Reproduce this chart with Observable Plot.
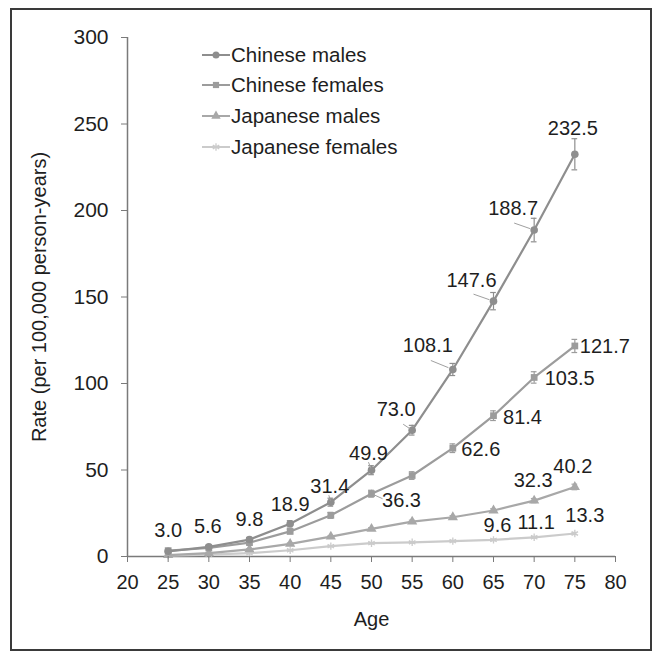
<!DOCTYPE html>
<html>
<head>
<meta charset="utf-8">
<script src="https://cdn.jsdelivr.net/npm/d3@7"></script>
<script src="https://cdn.jsdelivr.net/npm/@observablehq/plot@0.6"></script>
<style>
  body { margin: 0; background: #fff; font-family: "Liberation Sans", Arial, sans-serif; }
  #wrap { position: relative; width: 660px; height: 655px; }
  #border { position: absolute; left: 10px; top: 8px; width: 638px; height: 639px; border: 2px solid #3a3a3a; }
  #legend { position: absolute; left: 195px; top: 40px; }
  .ylab text[transform] { font-size: 21px; }
</style>
</head>
<body>
<div id="wrap"><div id="border"></div></div>
<script>
// ---- data ----
const ages = [25, 30, 35, 40, 45, 50, 55, 60, 65, 70, 75];
const seriesNames = ["Chinese males", "Chinese females", "Japanese males", "Japanese females"];
const chineseMales    = [3.0, 5.6, 9.8, 18.9, 31.4, 49.9, 73.0, 108.1, 147.6, 188.7, 232.5];
const chineseFemales  = [3.4, 4.9, 8.0, 14.5, 23.8, 36.3, 46.8, 62.6, 81.4, 103.5, 121.7];
const japaneseMales   = [0.8, 1.9, 4.1, 7.3, 11.5, 16.0, 20.2, 22.7, 26.6, 32.3, 40.2];
const japaneseFemales = [0.5, 1.1, 1.9, 3.6, 6.0, 7.7, 8.2, 8.9, 9.6, 11.1, 13.3];
// 95% CI half-widths (estimated from error bars)
const chineseMalesErr    = [0.5, 0.8, 1.2, 1.8, 2.3, 2.6, 2.8, 3.5, 5.0, 6.8, 9.0];
const chineseFemalesErr  = [0.5, 0.7, 1.0, 1.3, 1.7, 2.0, 2.2, 2.5, 2.8, 3.3, 3.8];
const japaneseMalesErr   = [0.2, 0.3, 0.4, 0.5, 0.6, 0.7, 0.8, 0.9, 1.0, 1.2, 1.6];
const japaneseFemalesErr = [0.1, 0.2, 0.2, 0.3, 0.3, 0.4, 0.4, 0.4, 0.5, 0.5, 0.6];
const xTicks = [20, 25, 30, 35, 40, 45, 50, 55, 60, 65, 70, 75, 80];
const yTicks = [0, 50, 100, 150, 200, 250, 300];
// labelled points: [series index, age]
const labelled = [
  [0,25],[0,30],[0,35],[0,40],[0,45],[0,50],[0,55],[0,60],[0,65],[0,70],[0,75],
  [1,50],[1,60],[1,65],[1,70],[1,75],
  [2,70],[2,75],
  [3,65],[3,70],[3,75]
];

// ---- layout / style (not data) ----
const colors = ["#8e8e8e", "#9c9c9c", "#a8a8a8", "#cbcbcb"];
const symbols = ["circle", "square", "triangle", "asterisk"];
// label pixel offsets from point: [dx, dy, leaderStartDx, leaderStartDy] (leader null if none)
const labelOffsets = [
  [0,-21,null,null],[-1,-20,null,null],[0,-20,null,null],[0,-19,null,null],
  [-1,-16,-2,-7],[-3,-17,-3,-8],[-16,-21,-9,-6],[-25,-24,-22,-9],[-22,-21,-20,-7],[-21,-21,-20,-7],[-2,-26,null,null],
  [30,7,11,5],[28,1,null,null],[29,1.5,null,null],[35.5,1.5,null,null],[30,1,null,null],
  [-1,-20,null,null],[-2,-20,null,null],
  [4,-14,null,null],[2,-15,null,null],[10,-18,null,null]
];

const W = 660, H = 655, ML = 127, MR = 45, MT = 37, MB = 99;
const kx = (W - ML - MR) / (xTicks[xTicks.length-1] - xTicks[0]);
const ky = (H - MT - MB) / (yTicks[yTicks.length-1] - yTicks[0]);

const valuesArr = [chineseMales, chineseFemales, japaneseMales, japaneseFemales];
const errArr = [chineseMalesErr, chineseFemalesErr, japaneseMalesErr, japaneseFemalesErr];
const rows = [];
valuesArr.forEach((vals, s) => vals.forEach((v, i) => rows.push({
  s, series: seriesNames[s], age: ages[i], value: v, lo: v - errArr[s][i], hi: v + errArr[s][i]
})));

const labels = labelled.map(([s, age], j) => {
  const r = rows.find(d => d.s === s && d.age === age);
  const [dx, dy, lx, ly] = labelOffsets[j];
  return {...r, text: r.value.toFixed(1), dx, dy, lx, ly};
});
const leaders = labels.filter(d => d.lx !== null).map(d => ({
  x1: d.age + d.lx / kx, y1: d.value - d.ly / ky,
  x2: d.age + d.lx * 0.2 / kx, y2: d.value - d.ly * 0.2 / ky
}));

const marks = [
  Plot.ruleY([0], {stroke: "#7a7a7a", strokeWidth: 1.5}),
  Plot.ruleX([20], {stroke: "#7a7a7a", strokeWidth: 1.5}),
];
for (let s = 3; s >= 0; s--) {
  const data = rows.filter(d => d.s === s);
  marks.push(Plot.line(data, {x: "age", y: "value", stroke: colors[s], strokeWidth: 2.2}));
  marks.push(Plot.ruleX(data, {x: "age", y1: "lo", y2: "hi", stroke: colors[s], strokeWidth: 1.2}));
  marks.push(Plot.ruleY(data, {y: "lo", x1: d => d.age - 0.35, x2: d => d.age + 0.35, stroke: colors[s], strokeWidth: 1.2}));
  marks.push(Plot.ruleY(data, {y: "hi", x1: d => d.age - 0.35, x2: d => d.age + 0.35, stroke: colors[s], strokeWidth: 1.2}));
  if (symbols[s] === "asterisk") {
    marks.push(Plot.dot(data, {x: "age", y: "value", symbol: "asterisk", r: 3.5, stroke: colors[s], strokeWidth: 1.3}));
  } else {
    marks.push(Plot.dot(data, {x: "age", y: "value", symbol: symbols[s], r: 3.8, fill: colors[s], stroke: "none"}));
  }
}
marks.push(Plot.link(leaders, {x1: "x1", y1: "y1", x2: "x2", y2: "y2", stroke: "#a0a0a0", strokeWidth: 1}));
labels.forEach(d => marks.push(Plot.text([d], {
  x: "age", y: "value", text: "text", dx: d.dx, dy: d.dy,
  fontSize: 20, fill: "#1e1e1e", textAnchor: "middle", lineAnchor: "middle"
})));
marks.push(Plot.axisX({ticks: xTicks, tickSize: 6, tickPadding: 12, stroke: "#7a7a7a", fill: "#1e1e1e",
  label: "Age", labelAnchor: "center", labelOffset: 69, labelArrow: "none", tickFormat: d => String(d)}));
marks.push(Plot.axisY({ticks: yTicks, tickSize: 6, tickPadding: 13, stroke: "#7a7a7a", fill: "#1e1e1e",
  label: "Rate (per 100,000 person-years)", labelAnchor: "center", labelOffset: 96, labelArrow: "none",
  tickFormat: d => String(d), className: "ylab"}));

const chart = Plot.plot({
  width: W, height: H,
  marginLeft: ML, marginRight: MR, marginTop: MT, marginBottom: MB,
  x: {domain: [20, 80]},
  y: {domain: [0, 300]},
  style: {fontFamily: "'Liberation Sans', Arial, sans-serif", fontSize: "20px", color: "#1e1e1e", background: "transparent"},
  marks
});
document.getElementById("wrap").appendChild(chart);

// legend overlay
const lg = d3.select("#wrap").append("svg").attr("id", "legend").attr("width", 270).attr("height", 125)
  .style("font-family", "'Liberation Sans', Arial, sans-serif");
const rowY = [15, 45, 76, 107];
seriesNames.forEach((name, s) => {
  const g = lg.append("g").attr("transform", `translate(0,${rowY[s]})`);
  g.append("line").attr("x1", 7).attr("x2", 35).attr("stroke", colors[s]).attr("stroke-width", 2);
  const sym = {circle: d3.symbolCircle, square: d3.symbolSquare, triangle: d3.symbolTriangle, asterisk: d3.symbolAsterisk}[symbols[s]];
  const p = g.append("path").attr("transform", "translate(21,0)").attr("d", d3.symbol(sym, Math.PI * 3.5 * 3.5)());
  if (symbols[s] === "asterisk") p.attr("fill", "none").attr("stroke", colors[s]).attr("stroke-width", 1.3);
  else p.attr("fill", colors[s]);
  g.append("text").attr("x", 36).attr("dy", "0.35em").attr("font-size", 20.5).attr("fill", "#1e1e1e").text(name);
});
</script>
</body>
</html>
